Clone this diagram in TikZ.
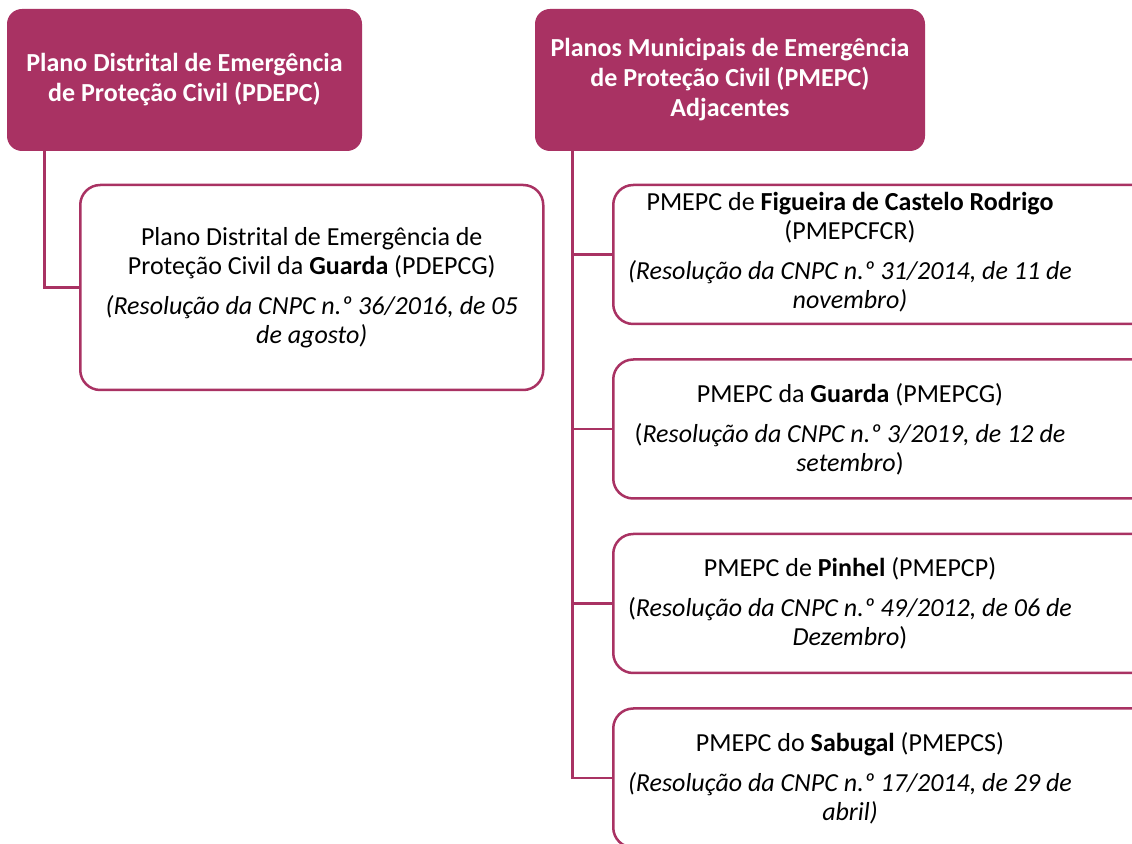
\documentclass[tikz,border=0pt]{standalone}
\usepackage{fontspec}
\setmainfont{Carlito}
\usetikzlibrary{positioning}
\definecolor{berry}{HTML}{A93263}

\begin{document}
\begin{tikzpicture}[
    x=0.5pt, y=-0.5pt,
    every node/.style={align=center, inner sep=0pt},
    head/.style={rectangle, rounded corners=7.5pt, fill=berry, text=white, minimum height=71pt, font=\bfseries\fontsize{13pt}{15pt}\selectfont},
    plan/.style={rectangle, rounded corners=10pt, draw=berry, line width=1.25pt, fill=white, anchor=west, minimum width=280pt, minimum height=69.5pt, font=\fontsize{13pt}{14.5pt}\selectfont},
    desc/.style={font=\fontsize{13pt}{14.5pt}\selectfont},
    link/.style={draw=berry, line width=1.25pt}
]
\useasboundingbox (0,0) rectangle (1132,844);
\clip (0,0) rectangle (1132,844);

\node[head, minimum width=177.5pt] (PDEPC) at (184.5,80) {Plano Distrital de Emergência\\de Proteção Civil (PDEPC)};
\node[head, minimum width=195pt] (PMEPC) at (730,80) {Planos Municipais de Emergência\\de Proteção Civil (PMEPC)\\Adjacentes};

\node[plan, minimum width=231.5pt, minimum height=102.5pt] (PDEPCG) at (79,287.5) {Plano Distrital de Emergência de\\Proteção Civil da \textbf{Guarda} (PDEPCG)\\[5.5pt]\textit{(Resolução da CNPC n.º 36/2016, de 05}\\\textit{de agosto)}};

\node[plan] (PMEPCFCR) at (612,254.5) {};
\node[plan] (PMEPCG) at (612,429) {};
\node[plan] (PMEPCP) at (612,603.5) {};
\node[plan] (PMEPCS) at (612,778) {};

\node[desc] (PMEPCFCRtext) at (850,252) {PMEPC de \textbf{Figueira de Castelo Rodrigo}\\(PMEPCFCR)\\[5.5pt]\textit{(Resolução da CNPC n.º 31/2014, de 11 de}\\\textit{novembro)}};
\node[desc] (PMEPCGtext) at (850,429) {PMEPC da \textbf{Guarda} (PMEPCG)\\[5.5pt](\textit{Resolução da CNPC n.º 3/2019, de 12 de}\\\textit{setembro})};
\node[desc] (PMEPCPtext) at (850,603.5) {PMEPC de \textbf{Pinhel} (PMEPCP)\\[5.5pt](\textit{Resolução da CNPC n.º 49/2012, de 06 de}\\\textit{Dezembro})};
\node[desc] (PMEPCStext) at (850,778) {PMEPC do \textbf{Sabugal} (PMEPCS)\\[5.5pt]\textit{(Resolução da CNPC n.º 17/2014, de 29 de}\\\textit{abril)}};

\draw[link] ([xshift=19pt]PDEPC.south west) |- (PDEPCG.west);
\foreach \plan in {PMEPCFCR, PMEPCG, PMEPCP, PMEPCS}
    \draw[link] ([xshift=19pt]PMEPC.south west) |- (\plan.west);
\end{tikzpicture}
\end{document}
